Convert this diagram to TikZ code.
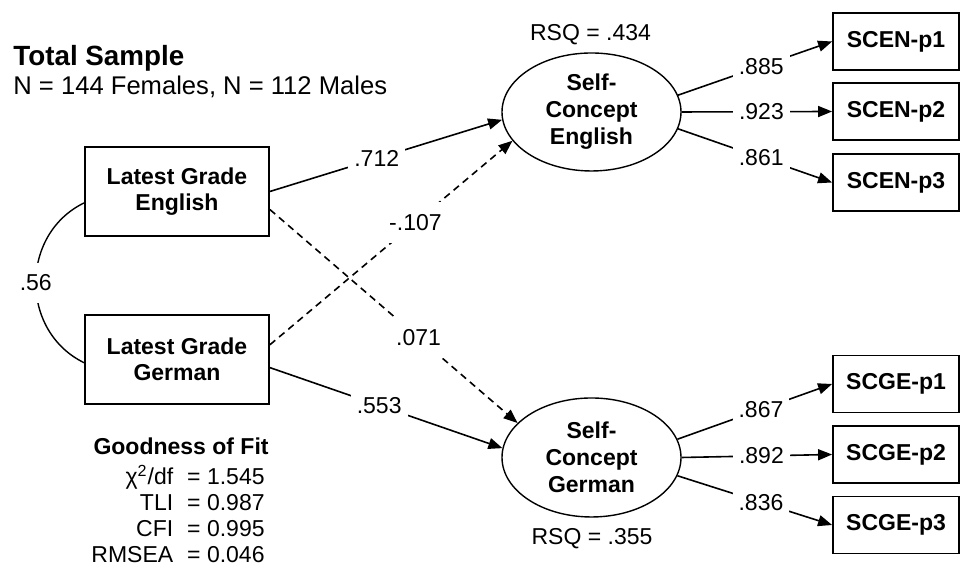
\documentclass[tikz,border=0pt]{standalone}
\usepackage{fontspec}
\setmainfont{Liberation Sans}
\usetikzlibrary{arrows.meta,shapes.geometric}

\tikzset{
  obs/.style={draw,line width=0.9pt,rectangle,minimum width=92pt,minimum height=44.5pt,
    align=center,font=\fontsize{11.5}{13}\selectfont\bfseries},
  ind/.style={obs,minimum width=63pt,minimum height=28.5pt},
  lat/.style={draw,line width=0.7pt,ellipse,minimum width=89.5pt,minimum height=59pt,
    inner sep=0pt,align=center,font=\fontsize{11.5}{13.5}\selectfont\bfseries},
  reg/.style={line width=0.8pt,-{Triangle[length=7pt,width=5.5pt]}},
  ns/.style={reg,dash pattern=on 3.5pt off 2.5pt},
  cov/.style={line width=0.7pt},
  lbl/.style={fill=white,inner xsep=3pt,inner ysep=3pt,font=\fontsize{11.5}{13}\selectfont},
}

\begin{document}
\begin{tikzpicture}[x=0.5pt,y=0.5pt]
   \useasboundingbox (0,0) rectangle (960,565);

   \node[anchor=base west,inner sep=0pt,font=\fontsize{13.9}{16}\selectfont\bfseries] (title) at (13,499) {Total Sample};
   \node[anchor=base west,inner sep=0pt,font=\fontsize{12.8}{15}\selectfont] (sample) at (13,470) {N = 144 Females, N = 112 Males};

   \node[obs] (LGE) at (177,373.5) {Latest Grade\\English};
   \node[obs] (LGG) at (177,205.5) {Latest Grade\\German};

   \node[lat] (SCE) at (591.5,453) {Self-\\Concept\\English};
   \node[lat,minimum height=59.5pt] (SGE) at (591.5,107.5) {Self-\\Concept\\German};
   \node[lbl,anchor=base,fill=none] (rsqE) at (590.5,524.5) {RSQ = .434};
   \node[lbl,anchor=base,fill=none] (rsqG) at (592,20) {RSQ = .355};

   \node[ind] (SCEN1) at (896,523.5) {SCEN-p1};
   \node[ind] (SCEN2) at (896,453.5) {SCEN-p2};
   \node[ind] (SCEN3) at (896,382.5) {SCEN-p3};
   \node[ind] (SCGE1) at (896,181) {SCGE-p1};
   \node[ind] (SCGE2) at (896,110.5) {SCGE-p2};
   \node[ind] (SCGE3) at (896,40) {SCGE-p3};

   \draw[cov] (LGE.187) to[out=206,in=154,looseness=1.15] node[lbl,inner ysep=6pt] {.56} (LGG.182);

   \draw[reg] (LGE.east) -- node[lbl,pos=0.46] {.712} (SCE.185);
   \draw[ns] (LGG.9) -- node[lbl,pos=0.6,inner ysep=6pt] {-.107} (SCE.200);
   \draw[ns] (LGE.-11) -- node[lbl,pos=0.6,inner ysep=6pt] {.071} (SGE.155);
   \draw[reg] (LGG.-5) -- node[lbl,pos=0.47] {.553} (SGE.174);

   \draw[reg] (SCE.11) -- node[lbl,pos=0.54] {.885} (SCEN1.west);
   \draw[reg] (SCE.east) -- node[lbl,pos=0.53] {.923} (SCEN2.west);
   \draw[reg] (SCE.-11) -- node[lbl,pos=0.54] {.861} (SCEN3.west);
   \draw[reg] (SGE.12) -- node[lbl,pos=0.54] {.867} (SCGE1.west);
   \draw[reg] (SGE.east) -- node[lbl,pos=0.53] {.892} (SCGE2.west);
   \draw[reg] (SGE.-12) -- node[lbl,pos=0.54] {.836} (SCGE3.west);

   \node[anchor=base east,inner sep=0pt,font=\fontsize{11.5}{13}\selectfont\bfseries] (gof) at (269,110) {Goodness of Fit};
   \node[anchor=base east,inner sep=0pt,font=\fontsize{11.5}{13}\selectfont] (fit) at (265,80)
     {\begin{tabular}[t]{@{}r@{\hspace{7pt}}l@{}}
        χ\textsuperscript{2}/df & = 1.545\\
        TLI & = 0.987\\
        CFI & = 0.995\\
        RMSEA & = 0.046
      \end{tabular}};
\end{tikzpicture}
\end{document}
